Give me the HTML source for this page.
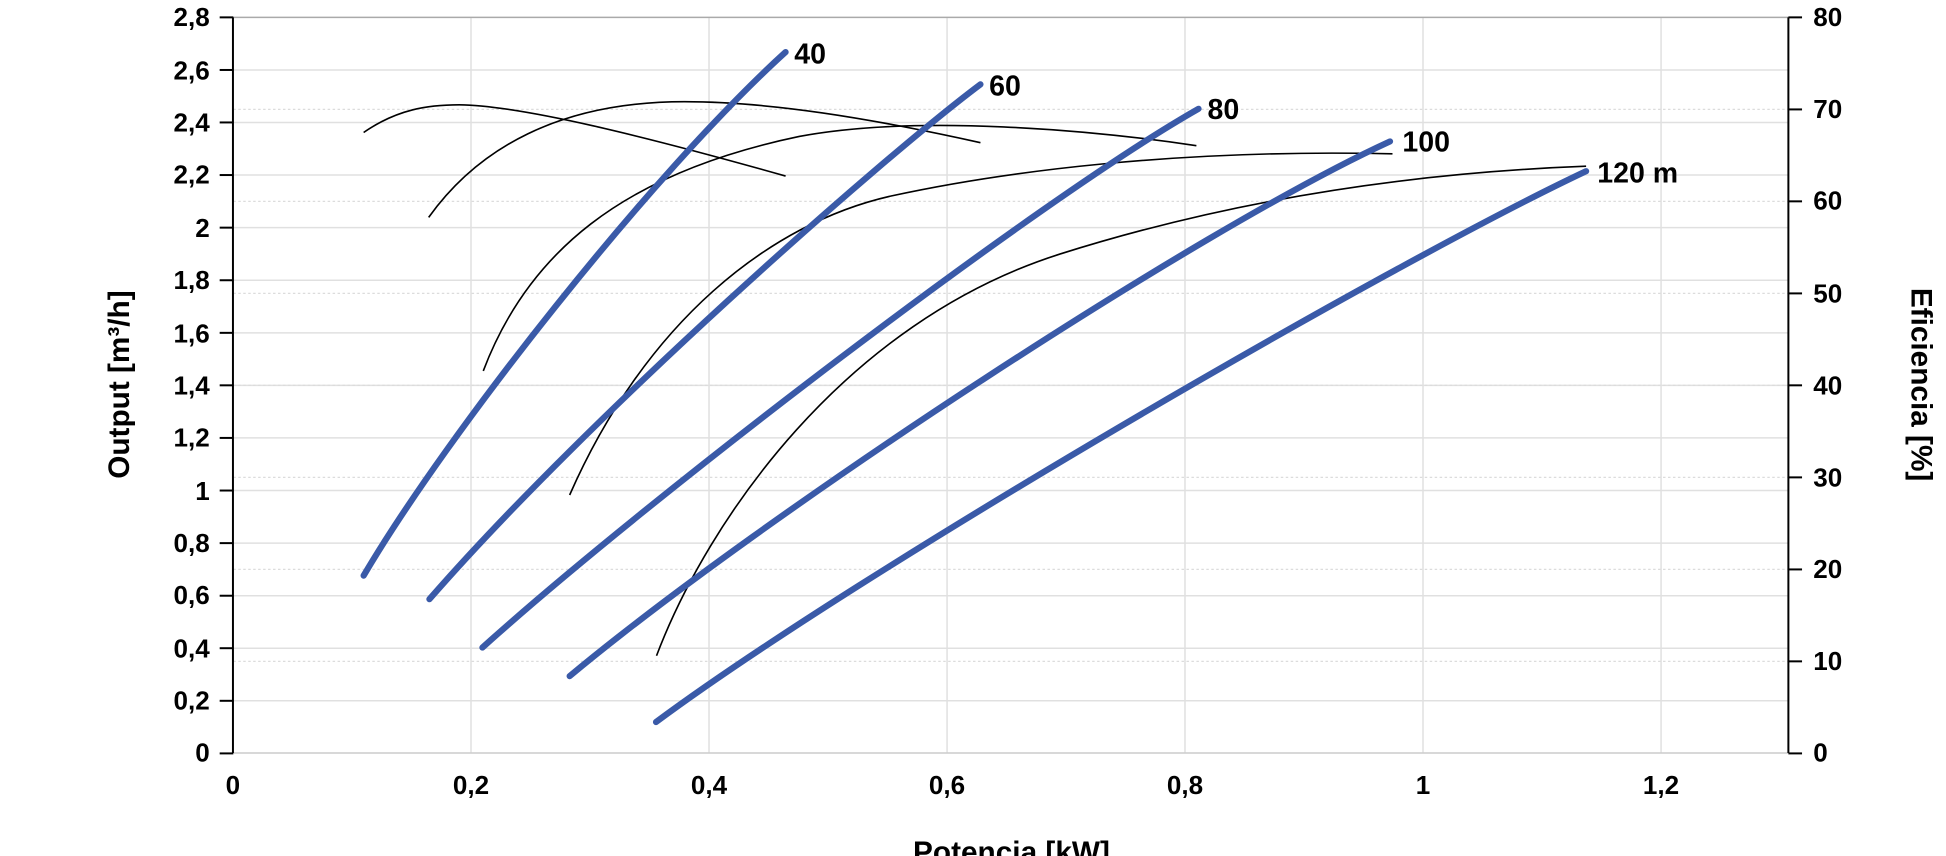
<!DOCTYPE html>
<html><head><meta charset="utf-8"><style>
html,body{margin:0;padding:0;background:#fff;}
svg{display:block;}
text{font-family:"Liberation Sans",Arial,sans-serif;font-weight:bold;fill:#000;}
</style></head><body>
<svg width="1946" height="856" viewBox="0 0 1568 690" preserveAspectRatio="none" xmlns="http://www.w3.org/2000/svg">
<g stroke="#e0e0e0" stroke-width="1.2">
<line x1="379.5" y1="14" x2="379.5" y2="607"/>
<line x1="571.3" y1="14" x2="571.3" y2="607"/>
<line x1="763.1" y1="14" x2="763.1" y2="607"/>
<line x1="954.8" y1="14" x2="954.8" y2="607"/>
<line x1="1146.6" y1="14" x2="1146.6" y2="607"/>
<line x1="1338.4" y1="14" x2="1338.4" y2="607"/>
<line x1="188" y1="564.9" x2="1441" y2="564.9"/>
<line x1="188" y1="522.5" x2="1441" y2="522.5"/>
<line x1="188" y1="480.2" x2="1441" y2="480.2"/>
<line x1="188" y1="437.8" x2="1441" y2="437.8"/>
<line x1="188" y1="395.4" x2="1441" y2="395.4"/>
<line x1="188" y1="353.0" x2="1441" y2="353.0"/>
<line x1="188" y1="310.6" x2="1441" y2="310.6"/>
<line x1="188" y1="268.3" x2="1441" y2="268.3"/>
<line x1="188" y1="225.9" x2="1441" y2="225.9"/>
<line x1="188" y1="183.5" x2="1441" y2="183.5"/>
<line x1="188" y1="141.1" x2="1441" y2="141.1"/>
<line x1="188" y1="98.7" x2="1441" y2="98.7"/>
<line x1="188" y1="56.4" x2="1441" y2="56.4"/>
</g>
<g stroke="#dcdcdc" stroke-width="1" stroke-dasharray="2,2">
<line x1="188" y1="533.1" x2="1441" y2="533.1"/>
<line x1="188" y1="459.0" x2="1441" y2="459.0"/>
<line x1="188" y1="384.8" x2="1441" y2="384.8"/>
<line x1="188" y1="310.6" x2="1441" y2="310.6"/>
<line x1="188" y1="236.5" x2="1441" y2="236.5"/>
<line x1="188" y1="162.3" x2="1441" y2="162.3"/>
<line x1="188" y1="88.2" x2="1441" y2="88.2"/>
</g>
<line x1="188" y1="14" x2="1441" y2="14" stroke="#aaa" stroke-width="1.2"/>
<line x1="188" y1="607" x2="1441" y2="607" stroke="#ccc" stroke-width="1.2"/>
<line x1="187.7" y1="14" x2="187.7" y2="607" stroke="#000" stroke-width="1.6"/>
<line x1="1441" y1="14" x2="1441" y2="607" stroke="#000" stroke-width="1.6"/>
<g stroke="#000" stroke-width="1.6">
<line x1="177" y1="607.3" x2="188" y2="607.3"/><line x1="177" y1="564.9" x2="188" y2="564.9"/><line x1="177" y1="522.5" x2="188" y2="522.5"/><line x1="177" y1="480.2" x2="188" y2="480.2"/><line x1="177" y1="437.8" x2="188" y2="437.8"/><line x1="177" y1="395.4" x2="188" y2="395.4"/><line x1="177" y1="353" x2="188" y2="353"/><line x1="177" y1="310.6" x2="188" y2="310.6"/><line x1="177" y1="268.3" x2="188" y2="268.3"/><line x1="177" y1="225.9" x2="188" y2="225.9"/><line x1="177" y1="183.5" x2="188" y2="183.5"/><line x1="177" y1="141.1" x2="188" y2="141.1"/><line x1="177" y1="98.7" x2="188" y2="98.7"/><line x1="177" y1="56.4" x2="188" y2="56.4"/><line x1="177" y1="14" x2="188" y2="14"/>
<line x1="1441" y1="607.3" x2="1452" y2="607.3"/><line x1="1441" y1="533.1" x2="1452" y2="533.1"/><line x1="1441" y1="459" x2="1452" y2="459"/><line x1="1441" y1="384.8" x2="1452" y2="384.8"/><line x1="1441" y1="310.6" x2="1452" y2="310.6"/><line x1="1441" y1="236.5" x2="1452" y2="236.5"/><line x1="1441" y1="162.3" x2="1452" y2="162.3"/><line x1="1441" y1="88.2" x2="1452" y2="88.2"/><line x1="1441" y1="14" x2="1452" y2="14"/>
</g>
<g font-size="21" text-anchor="end">
<text x="169" y="614">0</text><text x="169" y="572">0,2</text><text x="169" y="530">0,4</text><text x="169" y="487">0,6</text><text x="169" y="445">0,8</text><text x="169" y="403">1</text><text x="169" y="360">1,2</text><text x="169" y="318">1,4</text><text x="169" y="276">1,6</text><text x="169" y="233">1,8</text><text x="169" y="191">2</text><text x="169" y="148">2,2</text><text x="169" y="106">2,4</text><text x="169" y="64">2,6</text><text x="169" y="21">2,8</text>
</g>
<g font-size="21" text-anchor="start">
<text x="1461" y="614">0</text><text x="1461" y="540">10</text><text x="1461" y="466">20</text><text x="1461" y="392">30</text><text x="1461" y="318">40</text><text x="1461" y="244">50</text><text x="1461" y="169">60</text><text x="1461" y="95">70</text><text x="1461" y="21">80</text>
</g>
<g font-size="21" text-anchor="middle">
<text x="187.7" y="640">0</text><text x="379.5" y="640">0,2</text><text x="571.3" y="640">0,4</text><text x="763.1" y="640">0,6</text><text x="954.8" y="640">0,8</text><text x="1146.6" y="640">1</text><text x="1338.4" y="640">1,2</text>
</g>
<text x="815" y="695" font-size="24" text-anchor="middle">Potencia [kW]</text>
<text transform="translate(104,310) rotate(-90)" font-size="24" text-anchor="middle">Output [m³/h]</text>
<text transform="translate(1540,310) rotate(90)" font-size="24" text-anchor="middle">Eficiencia [%]</text>
<g fill="none" stroke="#000" stroke-width="1.3">
<path d="M293,106.8 C320,88 345,84.5 370,84.5 C420,85 520,110 633,141.9"/>
<path d="M345.4,175.2 C385,120 450,82 551.5,82 C620,82 700,95 790,115"/>
<path d="M389.4,299 C425,205 500,140 644,110 C740,92 880,105 964,117.4"/>
<path d="M459,399 C520,260 620,180 718,158 C810,138 950,120 1122,124"/>
<path d="M529,528.6 C570,420 680,260 854,204.8 C980,165 1120,140 1278,134"/>
</g>
<g fill="none" stroke="#3a5aa8" stroke-width="5" stroke-linecap="round">
<path d="M293,464 C360,350 525,140 633,42"/>
<path d="M346,483 C475,335 710,128 790,68"/>
<path d="M388.7,522 C518,405 835,162 965.7,87.7"/>
<path d="M459,545 C615,415 965,185 1120,114"/>
<path d="M528.6,582 C693,460 1115,215 1278,138"/>
</g>
<g font-size="23">
<text x="640" y="51">40</text><text x="797" y="77">60</text><text x="973" y="96">80</text><text x="1130" y="122">100</text><text x="1287" y="147">120 m</text>
</g>
</svg>
</body></html>
